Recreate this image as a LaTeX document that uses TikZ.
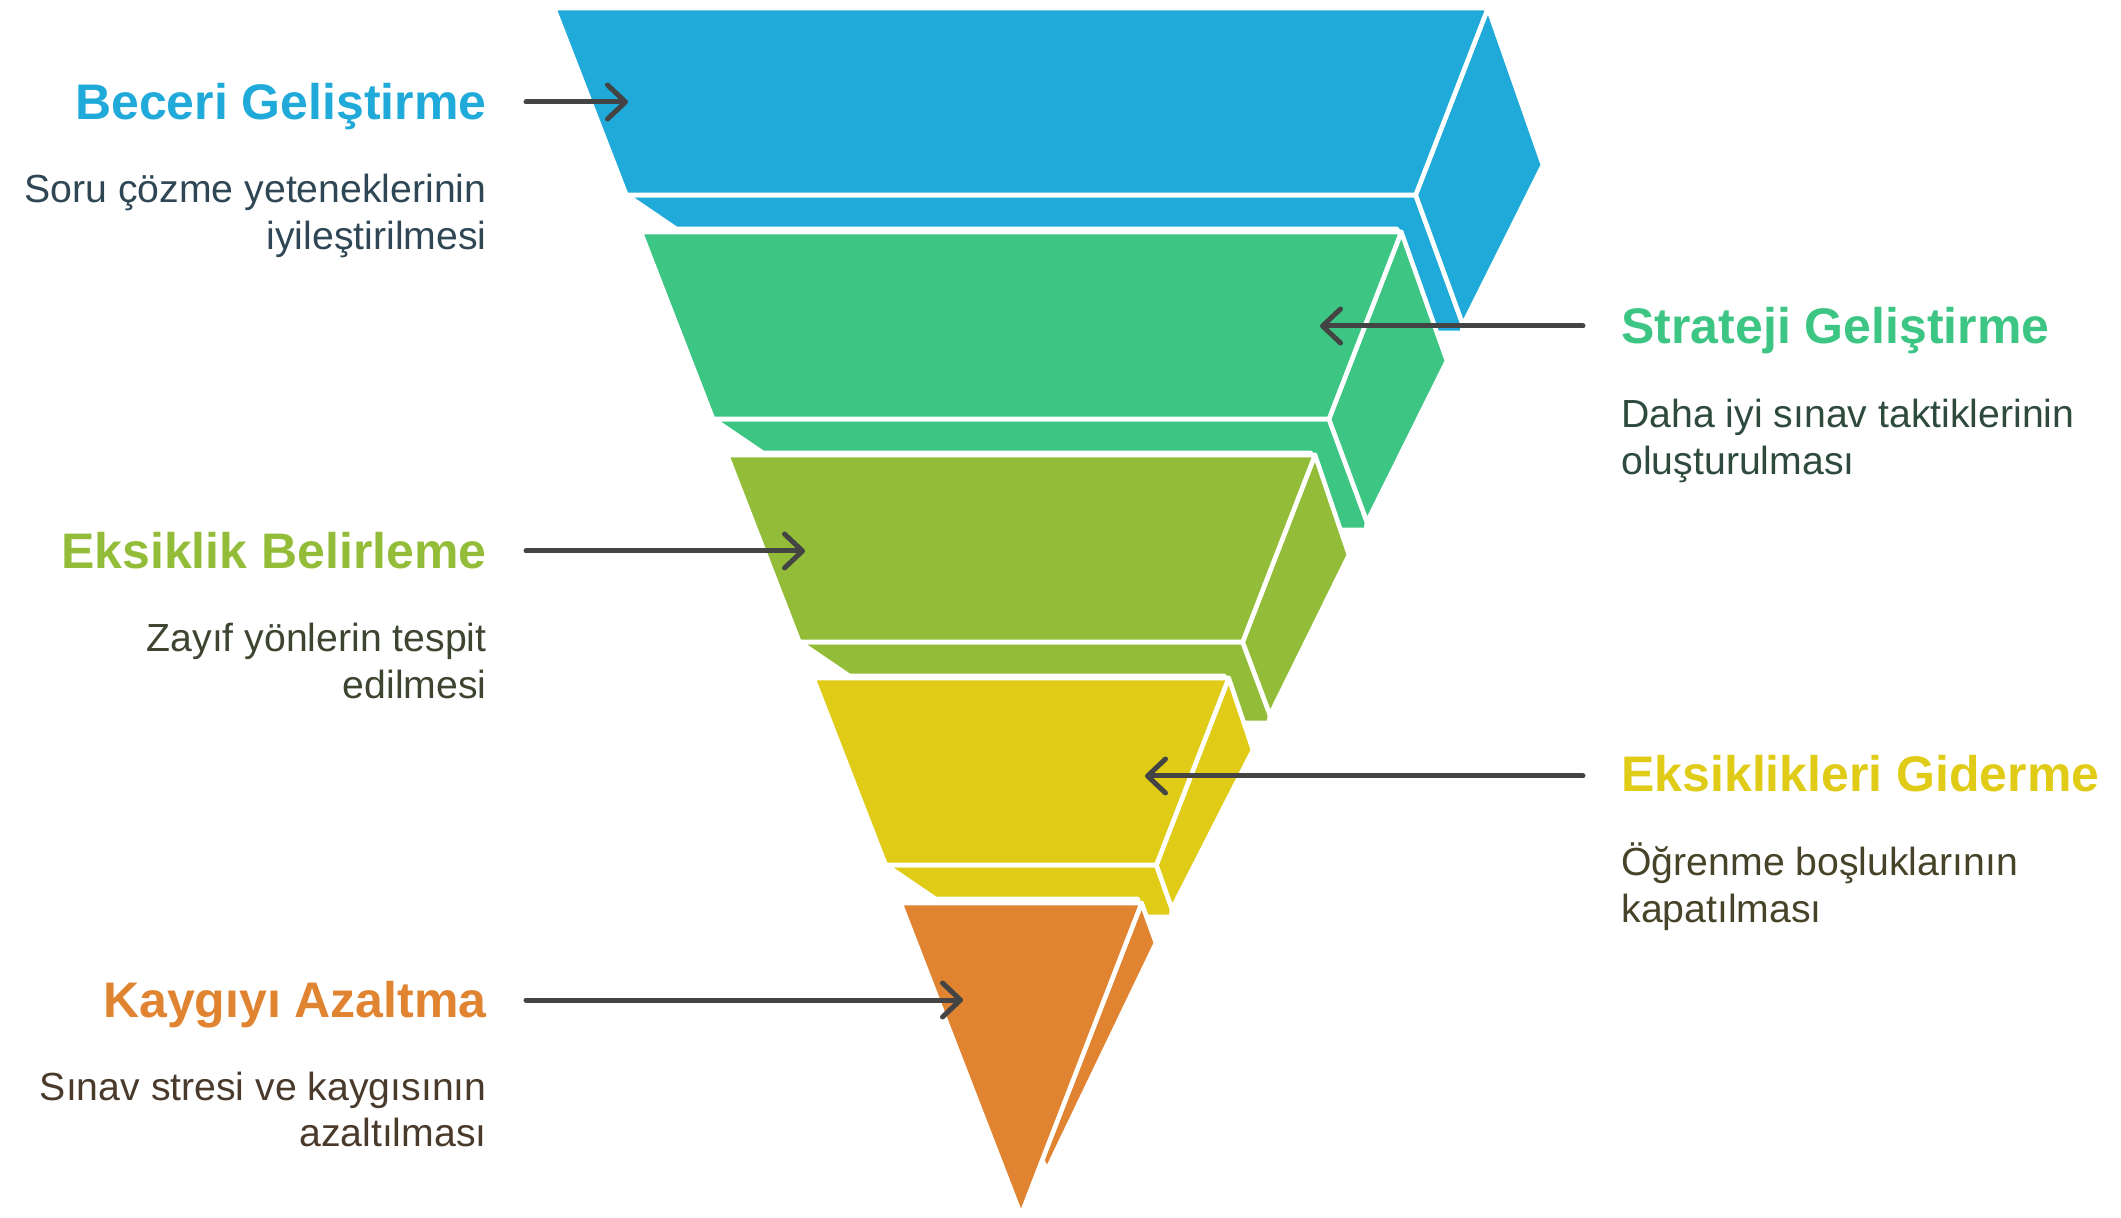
\documentclass[tikz,border=0pt]{standalone}
\usepackage{fontspec}
\setmainfont{Liberation Sans}
\usetikzlibrary{arrows.meta, positioning}
\definecolor{kblue}{HTML}{1FAAD9}
\definecolor{kgreen}{HTML}{3DC583}
\definecolor{kolive}{HTML}{93BD39}
\definecolor{kyellow}{HTML}{E0CB16}
\definecolor{korange}{HTML}{E08431}
\definecolor{tblue}{HTML}{2F4754}
\definecolor{tgreen}{HTML}{2D4A3C}
\definecolor{tolive}{HTML}{3D4530}
\definecolor{tyellow}{HTML}{474328}
\definecolor{torange}{HTML}{4A3A2C}
\definecolor{kgray}{HTML}{444444}

\begin{document}
\begin{tikzpicture}[x=0.5pt, y=-0.5pt,
    slab/.style = {draw=white, line width=2.3pt, line join=round},
    heading/.style = {font=\fontsize{25}{30}\selectfont\bfseries, inner sep=0pt},
    detail/.style = {font=\fontsize{19.6}{23.4}\selectfont, inner sep=0pt},
    pointer/.style = {draw=kgray, line width=2.5pt, line cap=round,
      -{Straight Barb[length=9pt, width=17pt, round]}},
  ]
\useasboundingbox (0,0) rectangle (2121,1218);

\foreach \col/\yt/\rx/\ry/\bx/\by [count=\n] in
    {kblue/8/1543/165/1463/325, kgreen/232/1447/361/1367/522,
     kolive/455/1349/555/1270/715, kyellow/678/1253/750/1172/909}
{
  \pgfmathsetmacro\yb{\yt+187}
  \pgfmathsetmacro\wt{467-0.387*(\yt-8)}
  \pgfmathsetmacro\wb{467-0.387*(\yb-8)}
  \pgfmathsetmacro\wn{467-0.387*(\yt+216)}
  \coordinate (TL\n) at (1021-\wt,\yt);
  \coordinate (TR\n) at (1021+\wt,\yt);
  \coordinate (BR\n) at (1021+\wb,\yb);
  \coordinate (BL\n) at (1021-\wb,\yb);
  \coordinate (R\n) at (\rx,\ry);
  \coordinate (B\n) at (\bx,\by);
  \filldraw[slab, fill=\col] (BL\n) -- (BR\n) -- (B\n) -- (\bx-1,\by+8) -- (\bx-50,\by+8)
    -- (1021+\wn-4,\yb+34) -- (1021-\wb+50,\yb+34) -- cycle;
  \filldraw[slab, fill=\col] (TR\n) -- (R\n) -- (B\n) -- (BR\n) -- cycle;
  \filldraw[slab, fill=\col] (TL\n) -- (TR\n) -- (BR\n) -- (BL\n) -- cycle;
}

\coordinate (TL5) at (900.4,903);
\coordinate (TR5) at (1141.6,903);
\coordinate (T5) at (1021,1215);
\coordinate (R5) at (1156,943);
\filldraw[slab, fill=korange] (TR5) -- (R5) -- (1047,1170) -- (1042,1160) -- cycle;
\filldraw[slab, fill=korange] (TL5) -- (TR5) -- (T5) -- cycle;

\node[heading, text=kblue, anchor=base east] (h1) at (487,120) {Beceri Geliştirme};
\node[detail, text=tblue, anchor=base east] (d1) at (487,203)
    {\begin{tabular}[t]{@{}r@{}}Soru çözme yeteneklerinin\\iyileştirilmesi\end{tabular}};
\node[heading, text=kgreen, anchor=base west] (h2) at (1621,344) {Strateji Geliştirme};
\node[detail, text=tgreen, anchor=base west] (d2) at (1621,428)
    {\begin{tabular}[t]{@{}l@{}}Daha iyi sınav taktiklerinin\\oluşturulması\end{tabular}};
\node[heading, text=kolive, anchor=base east] (h3) at (487,569) {Eksiklik Belirleme};
\node[detail, text=tolive, anchor=base east] (d3) at (487,652)
    {\begin{tabular}[t]{@{}r@{}}Zayıf yönlerin tespit\\edilmesi\end{tabular}};
\node[heading, text=kyellow, anchor=base west] (h4) at (1621,792) {Eksiklikleri Giderme};
\node[detail, text=tyellow, anchor=base west] (d4) at (1621,876)
    {\begin{tabular}[t]{@{}l@{}}Öğrenme boşluklarının\\kapatılması\end{tabular}};
\node[heading, text=korange, anchor=base east] (h5) at (487,1017) {Kaygıyı Azaltma};
\node[detail, text=torange, anchor=base east] (d5) at (487,1100)
    {\begin{tabular}[t]{@{}r@{}}Sınav stresi ve kaygısının\\azaltılması\end{tabular}};

\coordinate (s1) at (526,102);  \coordinate (p1) at (628,102);
\coordinate (s2) at (1583,326); \coordinate (p2) at (1320,326);
\coordinate (s3) at (526,551);  \coordinate (p3) at (805,551);
\coordinate (s4) at (1583,776); \coordinate (p4) at (1145,776);
\coordinate (s5) at (526,1000); \coordinate (p5) at (963,1000);
\foreach \k in {1,...,5}
  \draw[pointer] (s\k) -- (p\k);
\end{tikzpicture}
\end{document}
